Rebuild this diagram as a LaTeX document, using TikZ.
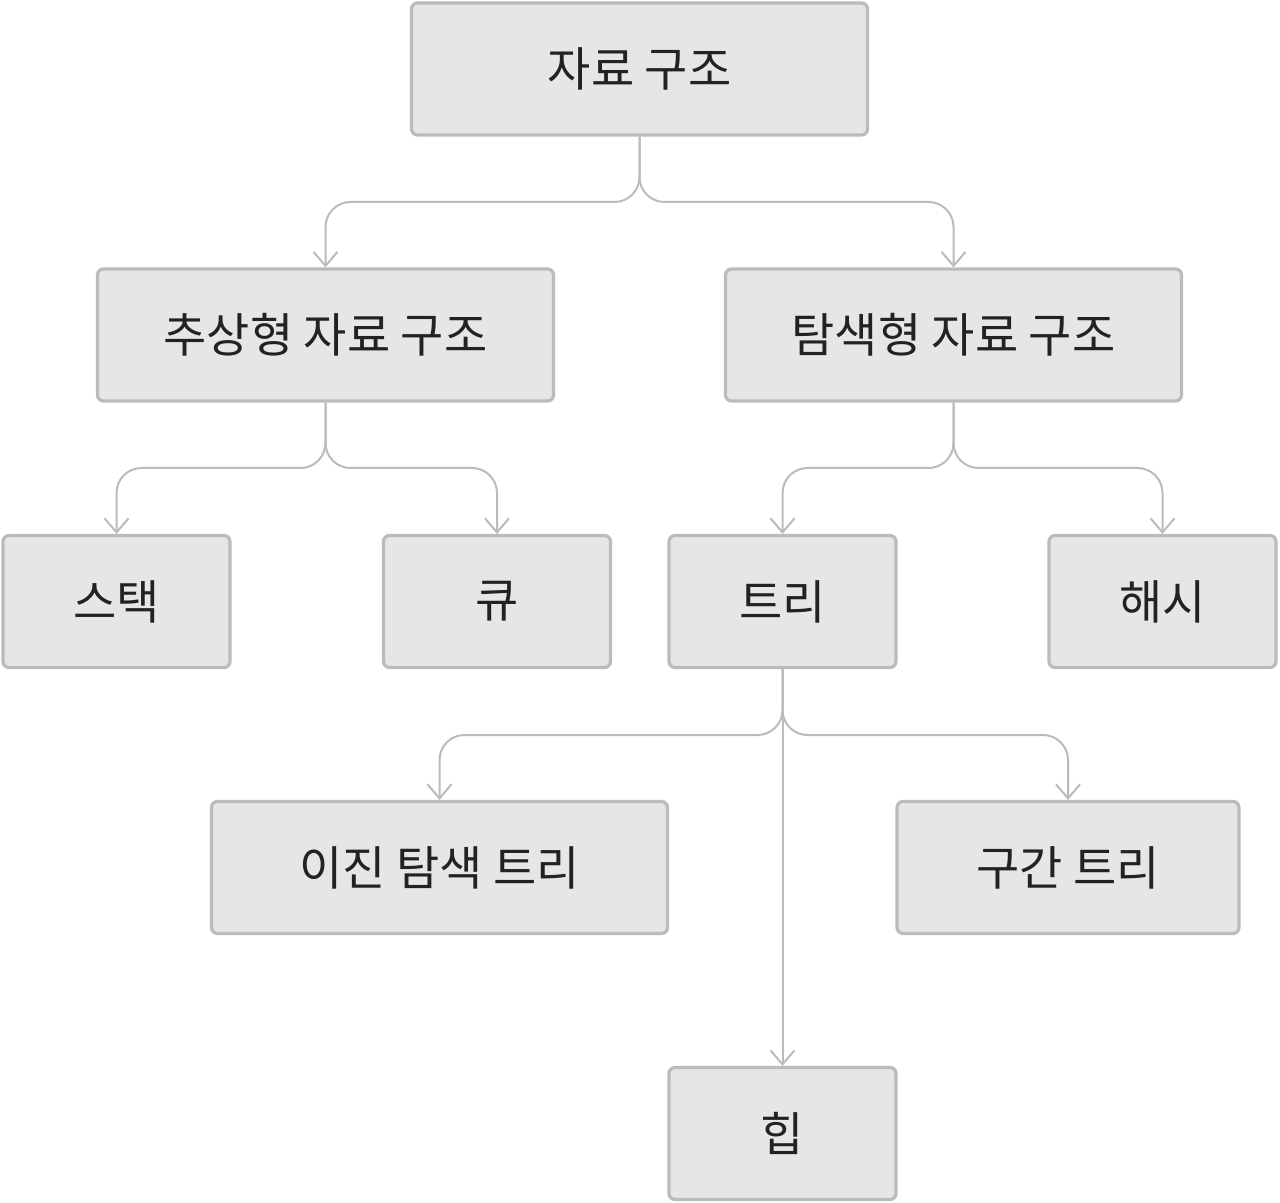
\documentclass[tikz,border=0pt]{standalone}
\usepackage{fontspec}
\usepackage{xcolor}
\usetikzlibrary{arrows.meta,positioning}
\newfontfamily\krfont{Noto Sans CJK KR}
\definecolor{boxfill}{HTML}{E6E6E6}
\definecolor{boxline}{HTML}{BBBBBB}
\definecolor{txt}{HTML}{222222}

\begin{document}
\begin{tikzpicture}[
      x=0.5pt, y=-0.5pt,
      font=\krfont\fontsize{23.5}{28}\selectfont,
      box/.style={draw=boxline, line width=1.6pt, fill=boxfill, text=txt,
        rounded corners=3pt, inner sep=0pt, minimum height=66pt},
      wide/.style={box, minimum width=228pt},
      narrow/.style={box, minimum width=113.5pt},
      mid/.style={box, minimum width=171pt},
      ar/.style={draw=boxline, line width=1pt, rounded corners=12.5pt,
        -{Straight Barb[length=7pt, width=12pt, line width=1pt]}}]
    \useasboundingbox (0,0) rectangle (1280,1203);
    \node[wide]   (root) at (639.5,69)    {자료 구조};
    \node[wide]   (adt)  at (325.5,335)   {추상형 자료 구조};
    \node[wide]   (srch) at (953.5,335)   {탐색형 자료 구조};
    \node[narrow] (stk)  at (116.5,601.5) {스택};
    \node[narrow] (que)  at (497,601.5)   {큐};
    \node[narrow] (tree) at (782.5,601.5) {트리};
    \node[narrow] (hash) at (1162.5,601.5){해시};
    \node[wide]   (bst)  at (439.5,867.5) {이진 탐색 트리};
    \node[mid]    (itv)  at (1068,867.5)  {구간 트리};
    \node[narrow] (heap) at (782.5,1133.5){힙};
    % branch levels
    \coordinate (b1) at (0,202);
    \coordinate (b2) at (0,468);
    \coordinate (b3) at (0,735);
    \draw[ar] (root.south) -- (root.south |- b1) -| (adt.north);
    \draw[ar] (root.south) -- (root.south |- b1) -| (srch.north);
    \draw[ar] (adt.south) -- (adt.south |- b2) -| (stk.north);
    \draw[ar] (adt.south) -- (adt.south |- b2) -| (que.north);
    \draw[ar] (srch.south) -- (srch.south |- b2) -| (tree.north);
    \draw[ar] (srch.south) -- (srch.south |- b2) -| (hash.north);
    \draw[ar] (tree.south) -- (tree.south |- b3) -| (bst.north);
    \draw[ar] (tree.south) -- (tree.south |- b3) -| (itv.north);
    \draw[ar] (tree.south) -- (heap.north);
\end{tikzpicture}
\end{document}
